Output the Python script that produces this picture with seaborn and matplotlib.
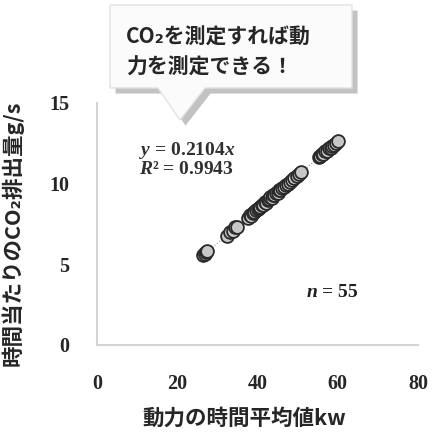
import matplotlib
matplotlib.use("Agg")
import matplotlib.pyplot as plt
import matplotlib.patheffects as pe
from matplotlib.patches import Polygon
import seaborn as sns
import pandas as pd

# power (kW) and CO2 emission (g/s)
power_kw = [26.5, 26.8, 27.0, 27.2, 27.5, 32.5, 33.2, 33.8, 34.5, 35.0,
            37.5, 38.0, 38.4, 38.8, 39.2, 39.6, 40.0, 40.3, 40.7, 41.0,
            41.4, 41.8, 42.1, 42.5, 42.8, 43.2, 43.5, 43.9, 44.2, 44.6,
            45.0, 45.3, 45.7, 46.0, 46.5, 47.0, 47.5, 48.0, 48.6, 49.2,
            49.8, 50.3, 50.9, 55.2, 55.6, 56.0, 56.4, 56.8, 57.3, 57.7,
            58.2, 58.6, 59.0, 59.5, 60.0]
co2_gs = [5.55, 5.70, 5.62, 5.78, 5.85, 6.78, 7.02, 7.08, 7.30, 7.32,
          7.85, 8.05, 8.02, 8.20, 8.22, 8.38, 8.40, 8.52, 8.55, 8.68,
          8.70, 8.85, 8.82, 9.00, 9.02, 9.15, 9.12, 9.28, 9.30, 9.42,
          9.45, 9.58, 9.60, 9.72, 9.78, 9.92, 10.00, 10.12, 10.20, 10.38,
          10.45, 10.62, 10.70, 11.65, 11.70, 11.82, 11.85, 12.00, 12.05, 12.18,
          12.22, 12.35, 12.40, 12.55, 12.65]
slope = 0.2104
r2 = 0.9943
x_ticks = [0, 20, 40, 60, 80]
y_ticks = [0, 5, 10, 15]

df = pd.DataFrame({"power": power_kw, "co2": co2_gs})

sns.set_style("white")
jp = ["Noto Sans CJK JP", "DejaVu Sans"]
plt.rcParams["font.family"] = jp
plt.rcParams["mathtext.fontset"] = "custom"
plt.rcParams["mathtext.rm"] = "Liberation Serif:bold"
plt.rcParams["mathtext.it"] = "Liberation Serif:italic:bold"

fig = plt.figure(figsize=(4.38, 4.32), dpi=100)
ax = fig.add_axes([0.2215, 0.2014, 0.733, 0.5602])

# faint trend line through origin
xs = [min(power_kw), max(power_kw)]
ax.plot(xs, [slope * v for v in xs], color="#9a9a9a", lw=0.8, ls=":", zorder=1)

sns.scatterplot(data=df, x="power", y="co2", ax=ax, s=85, color="#c8c8c8",
                edgecolor="#2a2a2a", linewidth=1.3, zorder=3)

ax.set_xlim(0, 80)
ax.set_ylim(0, 15)
ax.set_xticks(x_ticks)
ax.set_yticks(y_ticks)
ax.tick_params(length=0)
ax.tick_params(axis="x", pad=21)
ax.tick_params(axis="y", pad=20)
for lab in ax.get_xticklabels() + ax.get_yticklabels():
    lab.set_fontfamily("Liberation Serif")
    lab.set_fontweight("bold")
    lab.set_fontsize(14.5)

for side in ["top", "right"]:
    ax.spines[side].set_visible(False)
for side in ["left", "bottom"]:
    ax.spines[side].set_color("#d4d4d4")
    ax.spines[side].set_linewidth(1.5)

ax.set_xlabel("動力の時間平均値kw", fontsize=15.5, fontweight="bold")
ax.xaxis.set_label_coords(0.46, -0.26)
ax.set_ylabel("時間当たりのCO₂排出量g/s", fontsize=15.5, fontweight="bold")
ax.yaxis.set_label_coords(-0.23, 0.46)

ax.text(0.13, 0.845, "$\\mathit{y}$ = 0.2104$\\mathit{x}$\n$\\mathit{R}$² = 0.9943",
        transform=ax.transAxes, fontsize=14, fontweight="bold",
        family="Liberation Serif", color="#303030", va="top", linespacing=0.95)
ax.text(0.65, 0.2, "$\\mathit{n}$ = 55", transform=ax.transAxes, fontsize=14,
        fontweight="bold", family="Liberation Serif", color="#202020")

# speech bubble callout (figure pixel coords -> fraction)
W, H = 438, 432
pts = [(110, 5), (352, 5), (352, 88), (205, 88), (180, 120), (158, 88), (110, 88)]
bubble = Polygon([(x / W, 1 - y / H) for x, y in pts], closed=True,
                 transform=fig.transFigure, facecolor="#fbfbfb",
                 edgecolor="#e2e2e2", lw=1.0, zorder=5,
                 path_effects=[pe.SimplePatchShadow(offset=(4, -4), shadow_rgbFace="#9a9a9a", alpha=0.6),
                               pe.Normal()])
fig.patches.append(bubble)
fig.text(126 / W, 1 - 52 / H, "CO₂を測定すれば動\n力を測定できる！", fontsize=15,
         fontweight="bold", va="center", ha="left", linespacing=1.55, zorder=6)

fig.savefig("out.png", dpi=100, facecolor="white")
